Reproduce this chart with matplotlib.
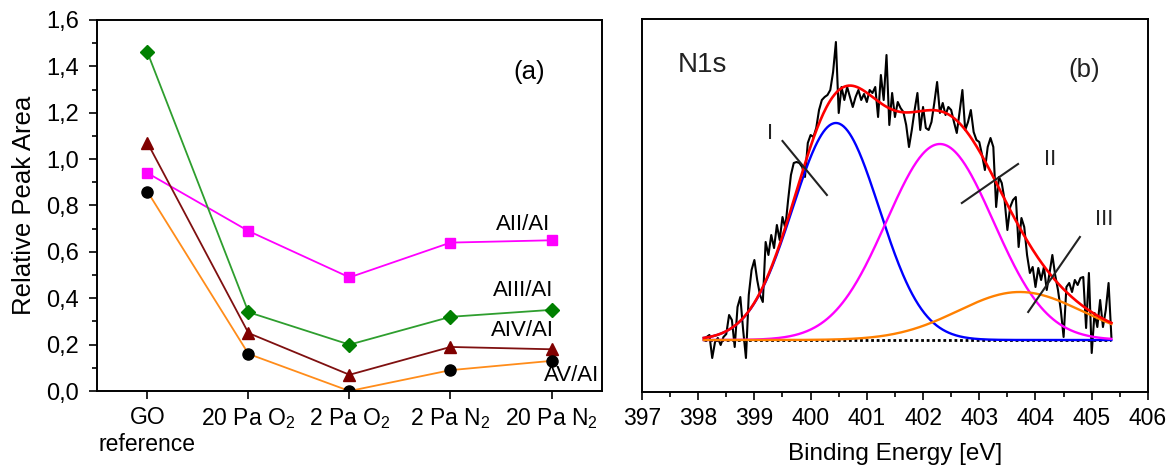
import numpy as np
import matplotlib
matplotlib.use("Agg")
import matplotlib.pyplot as plt
from matplotlib.ticker import MultipleLocator, FuncFormatter

plt.rcParams['font.family'] = ['Liberation Sans', 'DejaVu Sans']
plt.rcParams['mathtext.fontset'] = 'custom'
plt.rcParams['mathtext.rm'] = 'Liberation Sans'
plt.rcParams['mathtext.it'] = 'Liberation Sans'

# ---- panel (a): relative peak areas ----
samples = ["GO\nreference", "20 Pa O$_2$", "2 Pa O$_2$", "2 Pa N$_2$", "20 Pa N$_2$"]
a2_a1 = [0.94, 0.69, 0.49, 0.64, 0.65]
a3_a1 = [1.46, 0.34, 0.20, 0.32, 0.35]
a4_a1 = [1.07, 0.25, 0.07, 0.19, 0.18]
a5_a1 = [0.86, 0.16, 0.00, 0.09, 0.13]

# ---- panel (b): N1s spectrum (counts above background, arb. units) ----
e_start, e_step = 398.10, 0.05
n1s_counts = [
    0, 3, 5, -18, -2, 2, -5, 3, 6, 25,
    20, -7, 33, 43, 10, -18, 45, 70, 80, 60,
    45, 38, 98, 85, 105, 92, 115, 100, 123, 112,
    140, 165, 177, 178, 177, 173, 163, 197, 205, 203,
    212, 230, 240, 243, 245, 250, 268, 298, 227, 253,
    240, 253, 243, 233, 243, 250, 240, 246, 238, 250,
    247, 253, 223, 265, 240, 285, 215, 247, 223, 238,
    232, 228, 215, 193, 210, 230, 247, 210, 233, 212,
    210, 218, 237, 258, 227, 237, 225, 233, 230, 218,
    207, 228, 250, 210, 218, 230, 208, 200, 198, 185,
    170, 193, 202, 193, 133, 163, 157, 140, 110, 133,
    140, 143, 93, 122, 113, 85, 67, 73, 53, 72,
    60, 73, 50, 67, 85, 65, 50, 30, 3, 53,
    57, 48, 60, 55, 62, 63, 12, 67, -13, 27,
    13, 40, 13, 30, 57, 3,
]
# fitted components I, II, III (Gaussian peaks)
peak_centers = [400.45, 402.30, 403.72]
peak_heights = [217, 196, 48]
peak_sigmas = [0.77, 0.95, 1.10]
peak_colors = ["#0000FF", "#FF00FF", "#FF8000"]
peak_names = ["I", "II", "III"]
# marker lines: (E0, h0, E1, h1) and label positions
marker_lines = [(399.50, 199, 400.29, 145), (402.69, 137, 403.69, 176), (403.87, 28, 404.79, 103)]
label_pos = [(399.28, 206), (404.26, 180), (405.22, 120)]

fig = plt.figure(figsize=(11.71, 4.68), dpi=100)
ax1 = fig.add_axes([0.0828, 0.1645, 0.4313, 0.7928])
ax2 = fig.add_axes([0.5482, 0.1624, 0.4321, 0.7970])

x = np.arange(1, len(samples) + 1)
ax1.plot(x, a2_a1, color="#FF00FF", lw=1.3, marker="s", ms=7.5, mfc="#FF00FF", mec="#FF00FF")
ax1.plot(x, a3_a1, color="#2E9E2E", lw=1.3, marker="D", ms=7, mfc="#008000", mec="#008000")
ax1.plot(x, a4_a1, color="#7F1010", lw=1.3, marker="^", ms=8.5, mfc="#800000", mec="#800000")
ax1.plot(x, a5_a1, color="#FF8C1A", lw=1.3, marker="o", ms=8, mfc="black", mec="black")

ax1.set_xlim(0.5, 5.5)
ax1.set_ylim(0, 1.6)
ax1.set_xticks(x)
ax1.set_xticklabels(samples)
ax1.yaxis.set_major_locator(MultipleLocator(0.2))
ax1.yaxis.set_minor_locator(MultipleLocator(0.1))
ax1.yaxis.set_major_formatter(FuncFormatter(lambda v, p: f"{v:.1f}".replace(".", ",")))
ax1.set_ylabel("Relative Peak Area", fontsize=18.5, labelpad=7)
ax1.tick_params(axis="both", which="major", direction="out", length=6, width=1.2)
ax1.tick_params(axis="y", which="major", labelsize=17, pad=7)
ax1.tick_params(axis="x", which="major", labelsize=16.5, pad=5)
ax1.tick_params(axis="y", which="minor", direction="out", length=3.5, width=1.2)

ax1.text(4.72, 0.716, "AII/AI", fontsize=16, ha="center", va="center")
ax1.text(4.72, 0.435, "AIII/AI", fontsize=16, ha="center", va="center")
ax1.text(4.71, 0.259, "AIV/AI", fontsize=16, ha="center", va="center")
ax1.text(5.20, 0.065, "AV/AI", fontsize=16, ha="center", va="center")
ax1.text(0.855, 0.86, "(a)", fontsize=18.5, ha="center", va="center", transform=ax1.transAxes)

# panel (b)
energy = e_start + e_step * np.arange(len(n1s_counts))
ax2.plot(energy, n1s_counts, color="black", lw=1.5, zorder=2)
ax2.plot([energy[0], energy[-1]], [0, 0], color="black", lw=2.0, ls=(0, (1, 1)), zorder=3)

e_fine = np.linspace(energy[0], energy[-1], 400)
envelope = np.zeros_like(e_fine)
for c, h, s, col in zip(peak_centers, peak_heights, peak_sigmas, peak_colors):
    comp = h * np.exp(-(e_fine - c) ** 2 / (2 * s ** 2))
    envelope += comp
    ax2.plot(e_fine, comp, color=col, lw=1.7, zorder=4)
ax2.plot(e_fine, envelope, color="#FF0000", lw=1.9, zorder=5)

for (e0, h0, e1, h1), (lx, ly), name in zip(marker_lines, label_pos, peak_names):
    ax2.plot([e0, e1], [h0, h1], color="#222222", lw=1.5, zorder=6)
    ax2.text(lx, ly, name, fontsize=16, ha="center", va="center", color="#222222")

ax2.set_xlim(397, 406)
ax2.set_ylim(-52, 321)
ax2.xaxis.set_major_locator(MultipleLocator(1))
ax2.xaxis.set_minor_locator(MultipleLocator(0.5))
ax2.set_yticks([])
ax2.tick_params(axis="x", which="major", direction="out", length=6, width=1.2, labelsize=16.5, pad=5)
ax2.tick_params(axis="x", which="minor", direction="out", length=3.5, width=1.2)
ax2.set_xlabel("Binding Energy [eV]", fontsize=17.5, labelpad=9)
ax2.text(0.119, 0.877, "N1s", fontsize=20, ha="center", va="center", transform=ax2.transAxes, color="#222222")
ax2.text(0.874, 0.863, "(b)", fontsize=18.5, ha="center", va="center", transform=ax2.transAxes, color="#222222")

for ax in (ax1, ax2):
    for sp in ax.spines.values():
        sp.set_linewidth(1.4)

fig.savefig("out.png", dpi=100)
